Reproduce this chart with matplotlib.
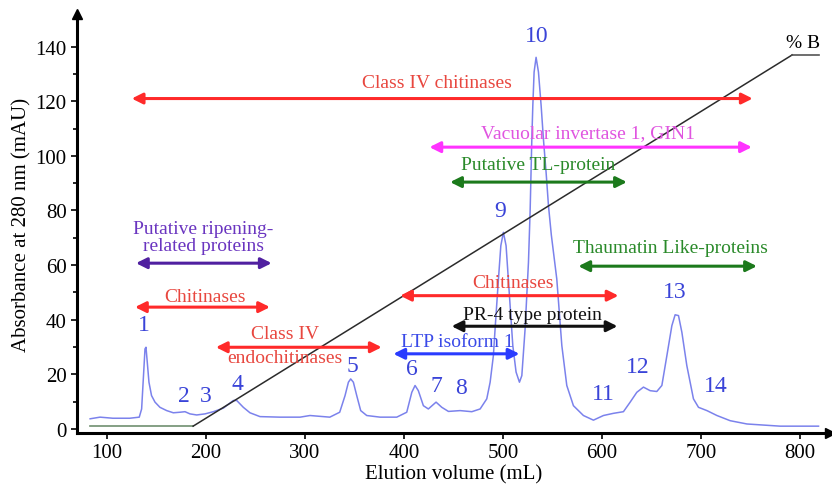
import matplotlib
matplotlib.use("Agg")
import matplotlib.pyplot as plt
from matplotlib.ticker import MultipleLocator

plt.rcParams["font.family"] = ["Liberation Serif", "DejaVu Serif"]

# chromatogram: elution volume (mL) vs absorbance (mAU)
vol = [83, 93, 106, 123, 132.6, 135, 136.7, 138.4, 139.4, 140.7, 142.4, 145,
       148.5, 153.5, 160.3, 167, 173.7, 178.8, 183.8, 190.6, 199, 207.4, 217.5,
       227.6, 231, 237.7, 244.4, 254.5, 274.7, 295, 305, 325, 335, 340.4,
       343.8, 346.1, 348.8, 352.2, 356.2, 362.3, 375.8, 392.6, 402.7, 407.8,
       411.1, 414.4, 419.5, 424.5, 432.3, 438.1, 444.8, 456.6, 468.4, 476.8,
       483.5, 486.9, 490.2, 491.9, 495.3, 497.7, 500.3, 503, 506.4, 509.8,
       513.1, 516.5, 518.9, 522.2, 525.6, 527.3, 529.0, 530.0, 531.3, 533.3,
       535.7, 538.4, 540.7, 543.4, 545.8, 548.7, 554.2, 559.3, 564.3, 571,
       581.1, 591.2, 601.3, 611.4, 621.5, 628.3, 635, 641.7, 648.5, 655.2,
       660.3, 665.4, 670.4, 673.7, 677.1, 680.5, 685.5, 692.2, 697.3, 705.8,
       715.9, 729.3, 746.2, 779.8, 818.5]
absorb = [3.7, 4.3, 3.9, 3.9, 4.3, 7.3, 18.3, 29.3, 29.9, 24.4, 17.1, 12.2,
          9.8, 7.9, 6.7, 5.9, 6.1, 6.3, 5.5, 5.1, 5.5, 6.3, 7.6,
          10.4, 10.4, 7.9, 5.9, 4.5, 4.3, 4.3, 4.9, 4.3, 6.1, 12.2,
          17.1, 18.3, 17.1, 12.2, 6.7, 4.9, 4.3, 4.3, 6.1, 13.4,
          15.9, 14.0, 8.5, 7.3, 9.8, 7.9, 6.4, 6.7, 6.3, 7.3,
          11, 17.1, 26.9, 36.6, 54.9, 67.1, 72, 67.1, 48.8, 30.5,
          20.8, 17.1, 19.5, 36.6, 61.0, 80, 106.2, 118.4, 130.7, 136.1,
          130.7, 118.4, 106.2, 94, 81.8, 71, 54.9, 30.5, 15.9, 8.5,
          4.9, 3.2, 4.9, 5.7, 6.3, 9.8, 13.4, 15.3, 14.0, 13.7,
          15.9, 26.9, 37.8, 41.8, 41.5, 35.4, 23.2, 11, 7.9, 6.7,
          4.9, 3.0, 1.8, 1.0, 1.0]

# gradient (%B) trace, drawn on the same scale
grad_vol = [83, 187, 792, 819]
grad_val = [1, 1, 137, 137]

# peak numbers
peak_ids = ["1", "2", "3", "4", "5", "6", "7", "8", "9", "10", "11", "12", "13", "14"]
peak_x = [137.4, 177.8, 200, 231.3, 347.5, 408, 433, 457.6, 497, 534, 601, 636, 673.7, 715]
peak_y = [38.1, 12.1, 12.1, 16.8, 23.4, 22, 15.8, 15, 79.9, 144, 12.8, 22.7, 50.2, 15.8]

# protein ranges (double arrows)
range_names = ["Class IV chitinases", "Vacuolar invertase 1, GIN1",
               "Putative TL-protein", "Putative ripening-\nrelated proteins",
               "Thaumatin Like-proteins", "Chitinases",
               "Class IV\nendochitinases", "Chitinases",
               "PR-4 type protein", "LTP isoform 1"]
range_start = [125, 425.6, 446.5, 129.3, 576, 128.3, 210, 396, 448, 389.2]
range_end = [752, 751.2, 625, 266.3, 756.3, 264.6, 377.4, 616.5, 615.5, 516.5]
range_level = [121, 103.2, 90.4, 60.7, 59.6, 44.6, 29.9, 48.8, 37.6, 27.5]

# label placement and styles
label_x = [433, 586, 535, 197, 668.7, 199, 280, 510, 530, 453.5]
label_y = [126.7, 108.7, 96.8, 70.3, 66.5, 48.6, 30.5, 53.7, 41.8, 31.9]
arrow_col = ["#ff2a2a", "#ff33ff", "#1c7a1c", "#5020a0", "#1c7a1c",
             "#ff2a2a", "#ff2a2a", "#ff2a2a", "#111111", "#2a3cff"]
text_col = ["#e8473f", "#e055e0", "#2a8a2a", "#6a35c0", "#2a8a2a",
            "#e8473f", "#e8473f", "#e8473f", "#111111", "#3a4ae8"]

fig = plt.figure(figsize=(8.32, 4.89), dpi=100)
ax = fig.add_axes([0.0925, 0.1125, 0.905, 0.857])

ax.plot(vol, absorb, color="#7b82ec", lw=1.1, zorder=2)
ax.plot(grad_vol[:2], grad_val[:2], color="#6f8f6f", lw=1.2, zorder=2)
ax.plot(grad_vol[1:3], grad_val[1:3], color="#2b2b2b", lw=1.1, zorder=2)
ax.plot(grad_vol[2:], grad_val[2:], color="#555555", lw=1.2, zorder=2)
ax.text(803, 141.4, "% B", fontsize=14, ha="center", va="center", color="black")

for name, x0, x1, y, c, tc, lx, ly in zip(range_names, range_start, range_end,
                                           range_level, arrow_col, text_col,
                                           label_x, label_y):
    ax.annotate("", xy=(x1, y), xytext=(x0, y),
                arrowprops=dict(arrowstyle="<|-|>", color=c, lw=2.2,
                                mutation_scale=16, shrinkA=0, shrinkB=0),
                zorder=3)
    if name.startswith("Class IV\n"):
        top, bottom = name.split("\n")
        ax.text(lx, ly + 4.3, top, color=tc, fontsize=14, ha="center", va="center", zorder=4)
        ax.text(lx, ly - 4.2, bottom, color=tc, fontsize=14, ha="center", va="center", zorder=4)
    else:
        ax.text(lx, ly, name, color=tc, fontsize=14, ha="center", va="center",
                linespacing=1.0, zorder=4)

for pid, px, py in zip(peak_ids, peak_x, peak_y):
    ax.text(px, py, pid, color="#3a44d8", fontsize=17, ha="center", va="center", zorder=4)

ax.set_xlim(69.7, 830)
ax.set_ylim(-1.5, 152)
ax.set_xticks(range(100, 801, 100))
ax.set_yticks(range(0, 141, 20))
ax.yaxis.set_minor_locator(MultipleLocator(10))
ax.tick_params(axis="both", labelsize=15, width=1.2, length=4, direction="out")
ax.tick_params(axis="y", which="minor", width=1.2, length=3)

for s in ("top", "right"):
    ax.spines[s].set_visible(False)
for s in ("left", "bottom"):
    ax.spines[s].set_linewidth(2.2)

# arrow heads on the axes
ax.plot(1, 0, ">k", markersize=7, transform=ax.transAxes, clip_on=False)
ax.plot(0, 1, "^k", markersize=7, transform=ax.transAxes, clip_on=False)

ax.set_xlabel("Elution volume (mL)", fontsize=15, labelpad=1)
ax.set_ylabel("Absorbance at 280 nm (mAU)", fontsize=15, labelpad=3)

fig.savefig("out.png", dpi=100, facecolor="white")
